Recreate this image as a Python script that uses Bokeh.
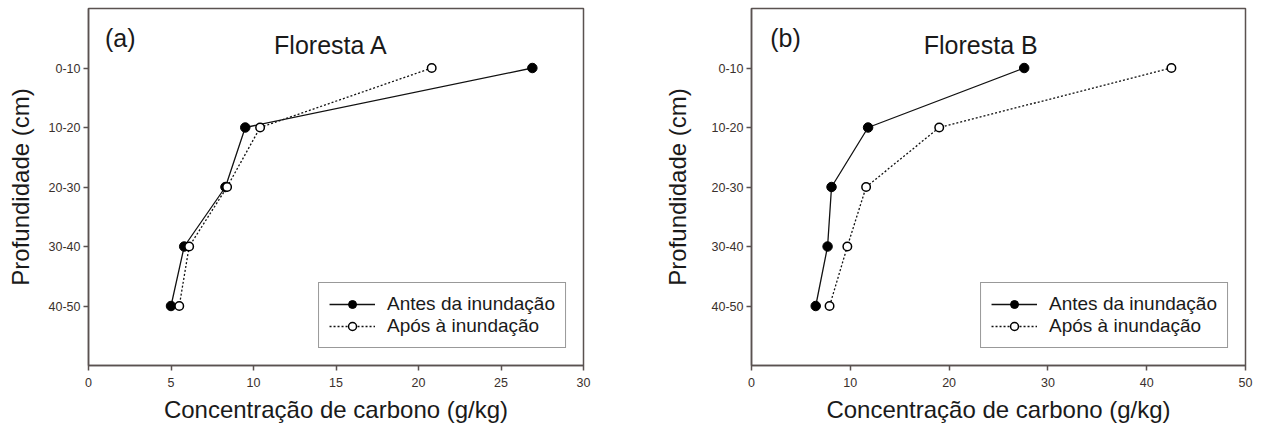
from bokeh.plotting import figure
from bokeh.models import Range1d, FactorRange, FixedTicker, Label, Legend, LegendItem
from bokeh.layouts import row
from bokeh.embed import file_html
from bokeh.resources import INLINE

# ---- data ----
depth = ["0-10", "10-20", "20-30", "30-40", "40-50"]

antes_a = [26.9, 9.5, 8.3, 5.8, 5.0]
apos_a = [20.8, 10.4, 8.4, 6.1, 5.5]

antes_b = [27.6, 11.8, 8.1, 7.7, 6.5]
apos_b = [42.5, 19.0, 11.6, 9.7, 7.9]

xticks_a = [0, 5, 10, 15, 20, 25, 30]
xticks_b = [0, 10, 20, 30, 40, 50]

panel_a_tag = "(a)"
panel_b_tag = "(b)"
title_a = "Floresta A"
title_b = "Floresta B"
ylabel = "Profundidade (cm)"
xlabel = "Concentração de carbono (g/kg)"
leg_antes = "Antes da inundação"
leg_apos = "Após à inundação"

FONT = "Liberation Sans"
FRAME = "#5a5250"
TICKTXT = "#3a302c"


def panel(antes, apos, xmax, xticks, tag, title, tag_x, title_x,
          fig_width, border_left, border_right, ylab_standoff):
    p = figure(width=fig_width, height=434,
               x_range=Range1d(0, xmax),
               y_range=FactorRange(factors=list(reversed(depth)), range_padding=0.2),
               output_backend="svg", toolbar_location=None,
               min_border_left=border_left, min_border_right=border_right,
               min_border_top=8, min_border_bottom=69)
    p.grid.visible = False
    p.outline_line_color = FRAME
    p.outline_line_width = 1.5
    p.background_fill_color = "white"
    p.border_fill_color = "white"

    for ax in (p.xaxis[0], p.yaxis[0]):
        ax.axis_line_color = FRAME
        ax.axis_line_width = 1.5
        ax.major_tick_line_color = FRAME
        ax.major_tick_line_width = 1.5
        ax.major_tick_out = 5
        ax.major_tick_in = 0
        ax.minor_tick_line_color = None
        ax.major_label_text_font = FONT
        ax.major_label_text_font_size = "12.5px"
        ax.major_label_text_color = TICKTXT
        ax.axis_label_text_font = FONT
        ax.axis_label_text_font_size = "24px"
        ax.axis_label_text_font_style = "normal"
        ax.axis_label_text_color = "#1a1a1a"

    p.xaxis.ticker = FixedTicker(ticks=xticks)
    p.xaxis.axis_label = xlabel
    p.xaxis.major_label_standoff = 7
    p.xaxis.axis_label_standoff = 6
    p.yaxis.axis_label = ylabel
    p.yaxis.major_label_standoff = 3
    p.yaxis.axis_label_standoff = ylab_standoff

    l1 = p.line(antes, depth, line_color="#111111", line_width=1.3)
    c1 = p.scatter(antes, depth, size=9.5, fill_color="black", line_color="black")
    l2 = p.line(apos, depth, line_color="#111111", line_width=1.3, line_dash="2 2")
    c2 = p.scatter(apos, depth, size=8.5, fill_color="white", line_color="black", line_width=1.5)

    legend = Legend(items=[LegendItem(label=leg_antes, renderers=[l1, c1]),
                           LegendItem(label=leg_apos, renderers=[l2, c2])],
                    location="bottom_right", margin=17, padding=10, spacing=0,
                    glyph_width=46, glyph_height=20, label_height=20,
                    label_standoff=12,
                    label_text_font=FONT, label_text_font_size="19px",
                    label_text_color="#1a1a1a",
                    border_line_color="#333333", border_line_width=1.5,
                    background_fill_color="white", background_fill_alpha=1.0)
    p.add_layout(legend)

    p.add_layout(Label(x=tag_x, y=5.0, text=tag, text_font=FONT, text_font_size="25px",
                       text_align="left", text_baseline="middle", text_color="#1a1a1a"))
    p.add_layout(Label(x=title_x, y=4.88, text=title, text_font=FONT, text_font_size="25px",
                       text_align="center", text_baseline="middle", text_color="#1a1a1a"))
    return p


pa = panel(antes_a, apos_a, 30, xticks_a, panel_a_tag, title_a, 1.0, 14.7, 631, 88, 48, 12)
pb = panel(antes_b, apos_b, 50, xticks_b, panel_b_tag, title_b, 1.9, 23.2, 631, 120, 17, 18)

layout = row(pa, pb)
open("out.html", "w").write(file_html(layout, INLINE))
